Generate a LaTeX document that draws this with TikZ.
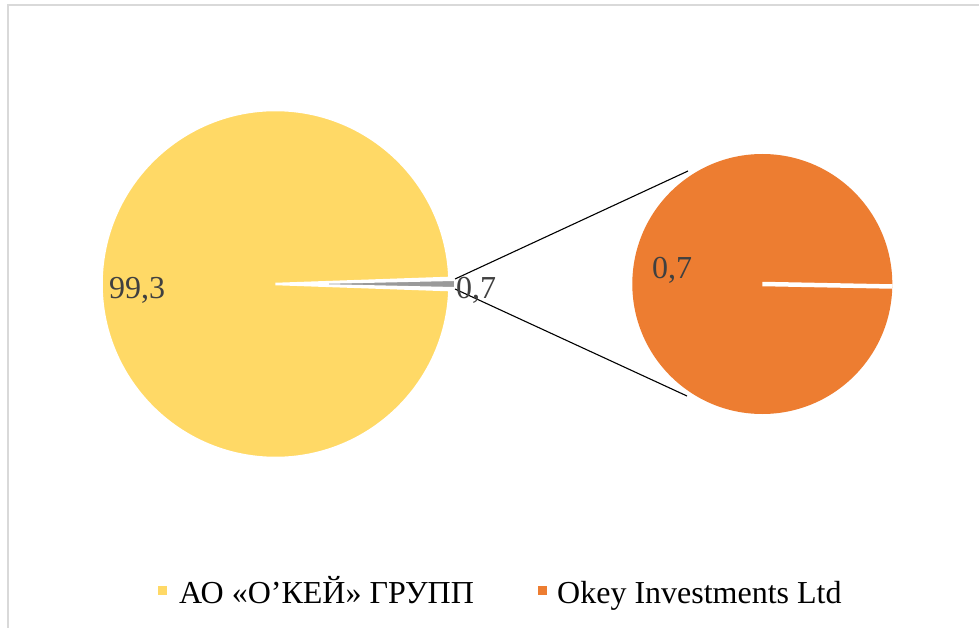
\documentclass[tikz,border=0pt]{standalone}
\usepackage{fontspec}
\setmainfont{Liberation Serif}
\definecolor{pieyellow}{HTML}{FFD966}
\definecolor{pieorange}{HTML}{ED7D31}
\definecolor{labelgrey}{HTML}{404040}
\definecolor{framegrey}{HTML}{D9D9D9}
\definecolor{slicegrey}{HTML}{9A9A9A}
\begin{document}
\begin{tikzpicture}[x=1pt,y=-1pt,
  datalabel/.style={anchor=base west,inner sep=0pt,text=labelgrey,font=\fontsize{32}{38}\selectfont},
  legendtext/.style={anchor=base west,inner sep=0pt,text=black,font=\fontsize{32}{38}\selectfont},
  connector/.style={draw=black,line width=1.1pt}]
\clip (0,0) rectangle (979,628);
\fill[white] (0,0) rectangle (979,628);
% frame
\draw[framegrey,line width=2pt] (8,640) -- (8,5) -- (990,5);
% left pie
\coordinate (lc) at (275.5,284);
\fill[pieyellow,draw=white,line width=2.5pt] (lc) -- ++(2:174) arc[start angle=2,end angle=358,radius=174] -- cycle;
% exploded small slice
\coordinate (sc) at (281,284);
\fill[slicegrey,draw=white,line width=1.6pt] (sc) -- ++(1.26:174) arc[start angle=1.26,end angle=-1.26,radius=174] -- cycle;
% right pie
\coordinate (rc) at (762.3,284);
\fill[pieorange] (rc) circle[radius=130];
\coordinate (re) at (892.5,286.5);
\draw[white,line width=4.5pt] (rc) -- (re);
% connectors
\coordinate (lt) at (455,279);
\coordinate (lb) at (455,289);
\coordinate (rt) at (688,171);
\coordinate (rb) at (687,396);
\draw[connector] (lt) -- (rt);
\draw[connector] (lb) -- (rb);
% data labels
\node[datalabel] (l993) at (109,298) {99,3};
\node[datalabel] (l07a) at (456,298) {0,7};
\node[datalabel] (l07b) at (652,278) {0,7};
% legend
\fill[pieyellow] (158,586) rectangle (167,595);
\node[legendtext] (lega) at (179,603) {АО «О’КЕЙ» ГРУПП};
\fill[pieorange] (538,586) rectangle (547,595);
\node[legendtext] (legb) at (557,603) {Okey Investments Ltd};
\end{tikzpicture}
\end{document}
